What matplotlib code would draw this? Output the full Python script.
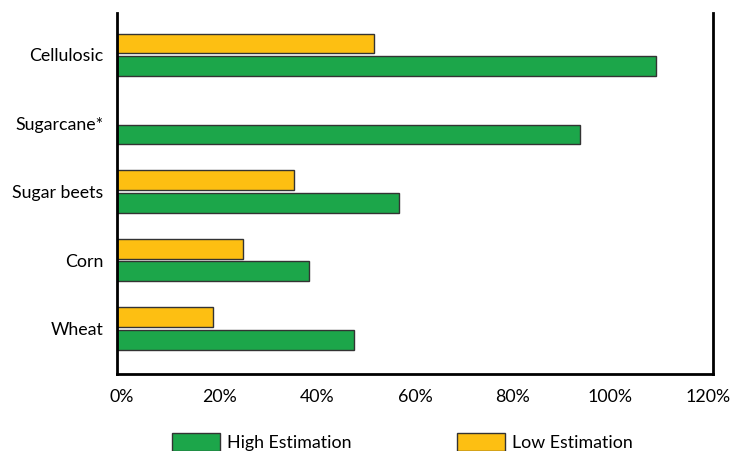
import numpy as np
import matplotlib.pyplot as plt
import matplotlib.transforms as mtransforms
from matplotlib.ticker import FuncFormatter

# --- data ---
crops = ['Wheat', 'Corn', 'Sugar beets', 'Sugarcane*', 'Cellulosic']
high_est = [47.8, 38.7, 56.8, 93.3, 108.5]
low_est = [19.4, 25.4, 35.6, 0, 51.8]
x_ticks = [0, 20, 40, 60, 80, 100, 120]

green = '#1ca64a'
yellow = '#fdbf12'
edge = '#333333'

plt.rcParams['font.family'] = ['Lato', 'DejaVu Sans']
fs = 12.8

fig = plt.figure(figsize=(7.3, 4.51), dpi=100)
ax = fig.add_axes([117 / 730, 1 - 374 / 451, 596 / 730, 361 / 451])

y = np.arange(len(crops))
h = 0.29
off = 0.165

# sugarcane has no low estimate, skip the empty bar
low_mask = np.array(low_est) > 0
ax.barh(y[low_mask] + off, np.array(low_est)[low_mask], height=h, color=yellow,
        edgecolor=edge, linewidth=1, label='Low Estimation')
ax.barh(y - off, high_est, height=h, color=green, edgecolor=edge, linewidth=1,
        label='High Estimation')

ax.set_xlim(0, 120)
ax.set_ylim(-0.665, 4.61)
ax.set_yticks(y)
ax.set_yticklabels(crops, fontsize=fs)
ax.set_xticks(x_ticks)
ax.xaxis.set_major_formatter(FuncFormatter(lambda v, p: f'{v:.0f}%'))
ax.tick_params(axis='x', length=0, pad=11, labelsize=fs)
ax.tick_params(axis='y', length=0, pad=10)

# the original squeezes the % labels slightly inwards
for t, lab in zip(x_ticks, ax.get_xticklabels()):
    dx = (5 - t / 120 * 10) / 100
    lab.set_transform(lab.get_transform() +
                      mtransforms.ScaledTranslation(dx, 0, fig.dpi_scale_trans))

ax.spines['top'].set_visible(False)
for s in ['left', 'right', 'bottom']:
    ax.spines[s].set_linewidth(2)
    ax.spines[s].set_color('black')

handles, labels = ax.get_legend_handles_labels()
fig.legend(handles[::-1], labels[::-1], loc='upper left',
           bbox_to_anchor=(172 / 730, 1 - 433 / 451), ncol=2, frameon=False,
           fontsize=fs, handlelength=2.7, handleheight=1.2, handletextpad=0.4,
           columnspacing=5.9, borderpad=0, borderaxespad=0)

fig.savefig('out.png', dpi=100)
